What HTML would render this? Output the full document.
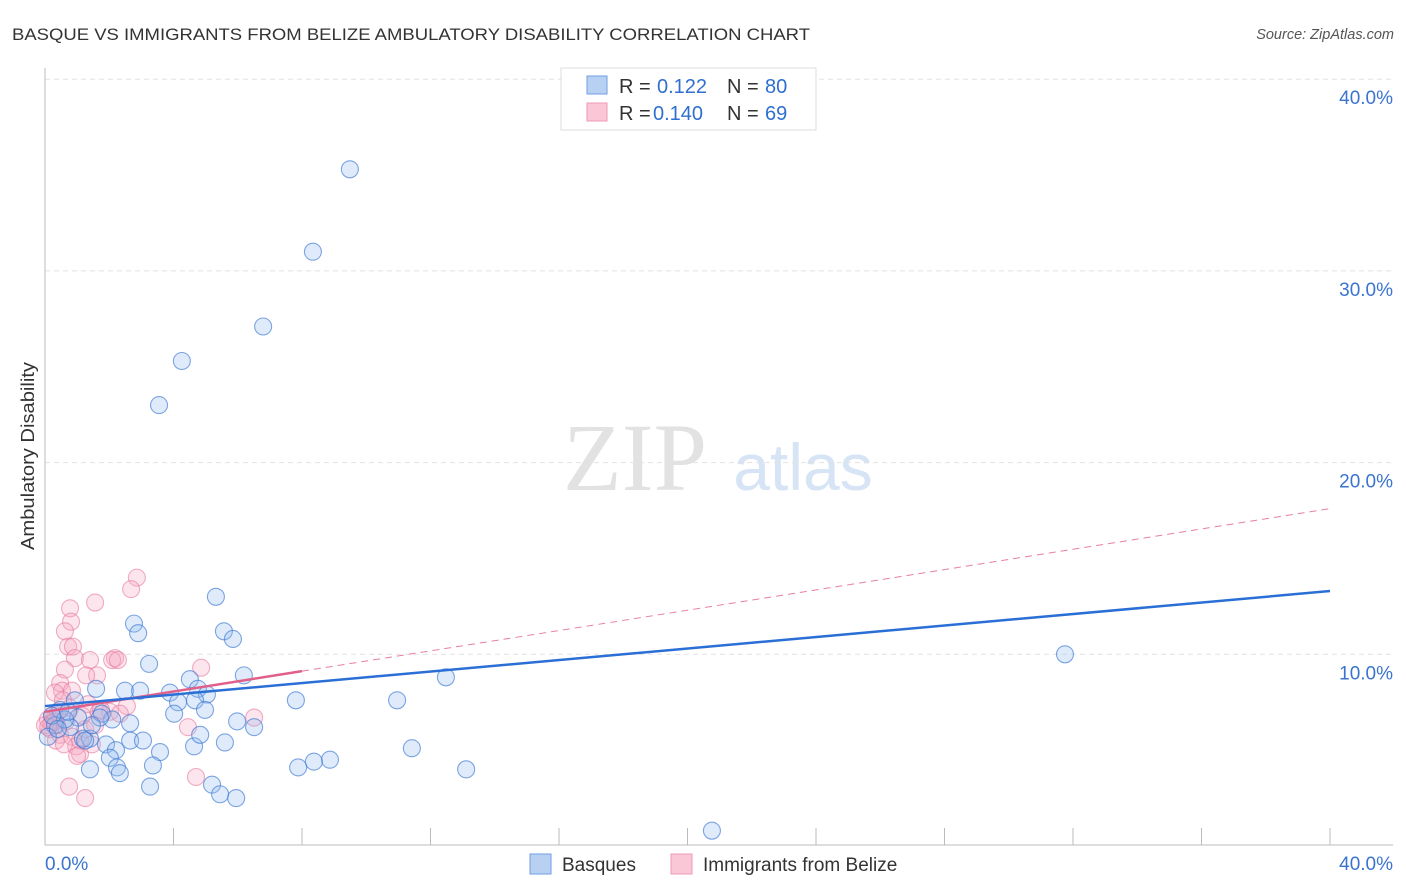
<!DOCTYPE html>
<html><head><meta charset="utf-8"><style>
body{margin:0;background:#fff;font-family:"Liberation Sans",sans-serif}
svg{display:block}
</style></head><body>
<svg id="chart" width="1406" height="892">
<text x="12" y="40" font-size="17" fill="#333" textLength="798" lengthAdjust="spacingAndGlyphs">BASQUE VS IMMIGRANTS FROM BELIZE AMBULATORY DISABILITY CORRELATION CHART</text>
<text x="1394" y="39" font-size="14.5" fill="#555" font-style="italic" text-anchor="end">Source: ZipAtlas.com</text>
<text x="34" y="456" font-size="18" fill="#333" transform="rotate(-90 34 456)" text-anchor="middle" textLength="188" lengthAdjust="spacingAndGlyphs">Ambulatory Disability</text>
<text x="635" y="490" font-size="96" fill="#e2e2e2" font-family="Liberation Serif,serif" text-anchor="middle">ZIP</text>
<text x="803" y="490" font-size="66" fill="#d6e4f5" text-anchor="middle">atlas</text>
<g id="grid"></g><g id="marks"></g>
<g>
<rect x="561" y="68" width="255" height="62" fill="#fff" stroke="#ddd"/>
<rect x="587" y="76" width="20" height="18" fill="#b8d1f3" stroke="#6f9ee0"/>
<rect x="587" y="103" width="20" height="18" fill="#f9c7d6" stroke="#ee9ab5"/>
<text x="619" y="93" font-size="20" fill="#333">R = </text><text x="657" y="93" font-size="20" fill="#2f6fd0">0.122</text>
<text x="727" y="93" font-size="20" fill="#333">N = </text><text x="765" y="93" font-size="20" fill="#2f6fd0">80</text>
<text x="619" y="120" font-size="20" fill="#333">R = </text><text x="653" y="120" font-size="20" fill="#2f6fd0">0.140</text>
<text x="727" y="120" font-size="20" fill="#333">N = </text><text x="765" y="120" font-size="20" fill="#2f6fd0">69</text>
</g>
<g>
<rect x="530" y="854" width="21" height="20" fill="#b8d1f3" stroke="#6f9ee0"/>
<text x="562" y="871" font-size="19" fill="#333">Basques</text>
<rect x="671" y="854" width="21" height="20" fill="#f9c7d6" stroke="#ee9ab5"/>
<text x="703" y="871" font-size="19" fill="#333">Immigrants from Belize</text>
</g>
</svg>
<script>
const yTicks=[10,20,30,40];
const xTickLabels=["0.0%","40.0%"];
const blueX=[9.49,8.34,6.79,4.26,3.55,5.32,2.77,2.90,5.57,5.85,3.24,6.19,31.75,12.48,4.51,2.49,2.96,1.59,3.89,4.76,5.04,4.67,4.14,7.81,10.96,4.02,4.98,5.98,6.51,2.65,2.09,1.77,1.03,0.47,0.31,0.09,0.78,1.40,1.90,2.21,2.65,3.05,3.58,4.64,4.83,5.60,11.42,8.87,8.37,7.88,2.02,2.24,2.33,1.40,3.36,13.11,3.27,5.20,5.45,5.95,20.76,1.18,0.62,0.22,0.40,0.93,0.72,1.25,1.71,1.46];
const blueY=[35.3,31.0,27.1,25.3,23.0,13.0,11.6,11.1,11.2,10.8,9.5,8.9,10.0,8.8,8.7,8.1,8.1,8.2,8.0,8.2,7.9,7.6,7.5,7.6,7.6,6.9,7.1,6.5,6.2,6.4,6.6,6.9,6.7,7.1,6.3,5.7,6.2,5.6,5.3,5.0,5.5,5.5,4.9,5.2,5.8,5.4,5.1,4.5,4.4,4.1,4.6,4.1,3.8,4.0,4.2,4.0,3.1,3.2,2.7,2.5,0.8,5.6,6.6,6.8,6.1,7.6,7.0,5.5,6.7,6.3];
const pinkX=[2.86,2.68,1.56,0.78,0.81,0.62,0.72,0.87,0.93,1.40,1.62,2.18,2.09,4.86,0.62,0.47,0.53,0.84,0.31,1.34,1.68,2.55,0.31,0.37,0.16,0.47,0.65,0.84,1.09,1.25,1.56,2.02,2.33,4.45,6.51,0.97,1.09,1.00,4.70,0.75,1.25,0.09,0.22,0.0,0.40,0.56,0.78,1.15,1.28,1.74,1.46,2.27,0.34,0.59,0.2,0.3,0.1];
const pinkY=[14.0,13.4,12.7,12.4,11.7,11.2,10.4,10.4,9.8,9.7,8.9,9.8,9.7,9.3,9.2,8.5,8.1,8.1,8.0,7.4,7.0,7.3,6.7,6.3,6.1,5.8,6.5,5.7,5.5,6.1,6.3,7.0,6.9,6.2,6.7,5.2,4.8,4.7,3.6,3.1,2.5,6.6,6.8,6.3,7.0,7.6,7.2,6.8,8.9,7.1,5.3,9.7,5.5,5.3,6.4,6.5,6.2];
const blueTrend=[7.3,13.3];
const pinkTrend=[7.0,17.6];
const pinkSolidEnd=8;
const X=v=>45+v/40*1285, Y=v=>846-v*19.17;
const NS="http://www.w3.org/2000/svg";
function mk(tag,attrs,parent){const e=document.createElementNS(NS,tag);for(const k in attrs)e.setAttribute(k,attrs[k]);parent.appendChild(e);return e;}
const grid=document.getElementById('grid'),marks=document.getElementById('marks');
yTicks.forEach(t=>{
 const l=mk('line',{x1:45,x2:1393,y1:Y(t),y2:Y(t),stroke:'#e2e2e2','stroke-dasharray':'5,4'},grid);
 
 
 const tx=mk('text',{x:1393,y:Y(t)+25,'font-size':19,fill:'#3a74d0','text-anchor':'end'},grid);
 tx.textContent=t.toFixed(1)+'%';
 
 
});
const ax=mk('line',{x1:45,x2:45,y1:68,y2:845,stroke:'#bbb'},grid);


const bx=mk('line',{x1:45,x2:1393,y1:845,y2:845,stroke:'#bbb'},grid);


for(let i=1;i<=10;i++){const t=mk('line',{x1:X(i*4),x2:X(i*4),y1:828,y2:845,stroke:'#bbb'},grid);
 
 }
[[0,45,'start'],[40,1393,'end']].forEach((d,i)=>{const t=mk('text',{x:d[1],y:870,'font-size':19,fill:'#3a74d0','text-anchor':d[2]},grid);t.textContent=xTickLabels[i];
 
 });
function pts(xs,ys,fill,stroke,name){xs.forEach((x,i)=>{const c=mk('circle',{cx:X(x),cy:Y(ys[i]),r:8.5,fill:fill,stroke:stroke,'stroke-width':1.1},marks);
 
 });}
pts(pinkX,pinkY,'rgba(245,170,195,0.3)','rgba(232,120,158,0.6)','belize-point');
pts(blueX,blueY,'rgba(150,188,238,0.3)','rgba(60,120,210,0.65)','basque-point');
const pm=pinkTrend[0]+(pinkTrend[1]-pinkTrend[0])*pinkSolidEnd/40;
const pd=mk('line',{x1:X(pinkSolidEnd),y1:Y(pm),x2:X(40),y2:Y(pinkTrend[1]),stroke:'#e87fa0','stroke-width':1,'stroke-dasharray':'7,5'},marks);


const ps=mk('line',{x1:X(0),y1:Y(pinkTrend[0]),x2:X(pinkSolidEnd),y2:Y(pm),stroke:'#e0608a','stroke-width':2.5},marks);


const bl=mk('line',{x1:X(0),y1:Y(blueTrend[0]),x2:X(40),y2:Y(blueTrend[1]),stroke:'#2a6fd6','stroke-width':2.5},marks);


</script>
</body></html>
